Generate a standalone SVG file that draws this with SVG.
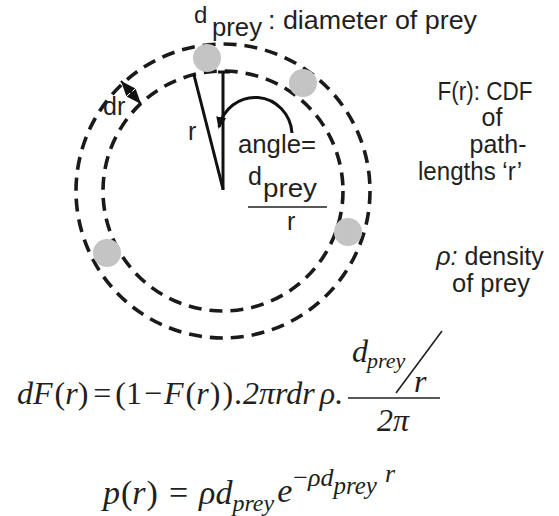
<svg xmlns="http://www.w3.org/2000/svg" width="559" height="516" viewBox="0 0 559 516">
<style>
.dash{fill:none;stroke:#1a1a1a;stroke-width:3.6;stroke-dasharray:13 8}
.prey{fill:#c4c4c4}
.ln{fill:none;stroke:#111;stroke-width:3}
.lbl{font-family:"Liberation Sans",Arial,sans-serif;font-size:25px;fill:#231f20}
.eq{font-family:"Liberation Serif","Times New Roman",serif;font-size:32px;fill:#231f20;font-style:italic}
.up{font-style:normal}
.bar{stroke:#231f20;stroke-width:1.6}
</style>
<defs>
<marker id="head" markerUnits="userSpaceOnUse" markerWidth="15" markerHeight="12" refX="15" refY="6" orient="auto-start-reverse"><path d="M0,0 L15,6 L0,12 z" fill="#111"/></marker>
<marker id="ahead" markerUnits="userSpaceOnUse" markerWidth="12" markerHeight="10" refX="10" refY="5" orient="auto"><path d="M0,0 L12,5 L0,10 z" fill="#111"/></marker>
</defs>
<rect width="559" height="516" fill="#fff"/>
<g id="rings">
<circle class="dash" cx="223" cy="191" r="147"/>
<circle class="dash" cx="223" cy="191" r="120"/>
</g>
<g id="prey-items">
<circle id="prey1" class="prey" cx="207" cy="58" r="14"/>
<circle id="prey2" class="prey" cx="303" cy="83" r="14"/>
<circle id="prey3" class="prey" cx="348" cy="232" r="14"/>
<circle id="prey4" class="prey" cx="107" cy="253" r="14"/>
</g>
<g id="connectors">
<line class="ln" x1="223" y1="190" x2="223" y2="72"/>
<line class="ln" x1="218" y1="72" x2="230" y2="72"/>
<line class="ln" x1="223" y1="189" x2="194" y2="75"/>
<path class="ln" d="M292,133 A37,38 0 0 0 219,127" marker-end="url(#ahead)"/>
<line x1="121" y1="81" x2="141" y2="104" stroke="#111" stroke-width="2" marker-start="url(#head)" marker-end="url(#head)"/>
</g>
<g id="label-top">
<text class="lbl" x="194" y="23" style="font-size:24px">d</text>
<text class="lbl" x="212" y="36" textLength="50" lengthAdjust="spacingAndGlyphs">prey</text>
<text class="lbl" x="268" y="29" textLength="209" lengthAdjust="spacingAndGlyphs">: diameter of prey</text>
</g>
<g id="label-dr"><text class="lbl" x="103" y="115">dr</text></g>
<g id="label-r"><text class="lbl" x="188" y="140">r</text></g>
<g id="label-angle">
<text class="lbl" x="238" y="153" textLength="78" lengthAdjust="spacingAndGlyphs">angle=</text>
<text class="lbl" x="248" y="185">d</text>
<text class="lbl" x="263" y="197" textLength="54" lengthAdjust="spacingAndGlyphs">prey</text>
<line class="bar" x1="248" y1="207" x2="327" y2="207"/>
<text class="lbl" x="287" y="230">r</text>
</g>
<g id="label-cdf" class="lbl" text-anchor="middle">
<text x="485" y="100" textLength="95" lengthAdjust="spacingAndGlyphs">F(r): CDF</text>
<text x="492" y="126">of</text>
<text x="498" y="153">path-</text>
<text x="470" y="180" textLength="104" lengthAdjust="spacingAndGlyphs">lengths ‘r’</text>
</g>
<g id="label-rho" class="lbl" text-anchor="middle">
<text x="490" y="265"><tspan font-style="italic">ρ:</tspan> density</text>
<text x="491" y="292" textLength="78" lengthAdjust="spacingAndGlyphs">of prey</text>
</g>
<g id="eq1">
<text class="eq" x="17" y="404">dF<tspan class="up" dx="2">(</tspan>r<tspan class="up">)</tspan><tspan class="up" dx="5">=</tspan><tspan class="up" dx="4">(1</tspan><tspan class="up" dx="2">−</tspan><tspan dx="2">F</tspan><tspan class="up" dx="2">(</tspan>r<tspan class="up" dx="1">)</tspan><tspan class="up" dx="2">)</tspan><tspan class="up" dx="1">.</tspan><tspan dx="1">2πrdr</tspan><tspan dx="5">ρ.</tspan></text>
<text class="eq" x="352" y="362">d</text>
<text class="eq" x="367" y="368" style="font-size:22px">prey</text>
<line class="bar" x1="396" y1="393" x2="442" y2="331"/>
<text class="eq" x="414" y="392">r</text>
<line class="bar" x1="348" y1="398" x2="440" y2="398"/>
<text class="eq" x="377" y="431">2π</text>
</g>
<g id="eq2">
<text class="eq" x="103" y="504" style="font-size:34px">p<tspan class="up" dx="1">(</tspan>r<tspan class="up" dx="1">)</tspan><tspan class="up" dx="11">=</tspan><tspan dx="11">ρd</tspan><tspan font-size="24" dy="7">prey</tspan><tspan dy="-9" dx="3">e</tspan><tspan font-size="26" dy="-16" dx="1"><tspan class="up">−</tspan>ρd</tspan><tspan font-size="25" dy="8">prey</tspan><tspan font-size="26" dy="-12" dx="8">r</tspan></text>
</g>
</svg>
